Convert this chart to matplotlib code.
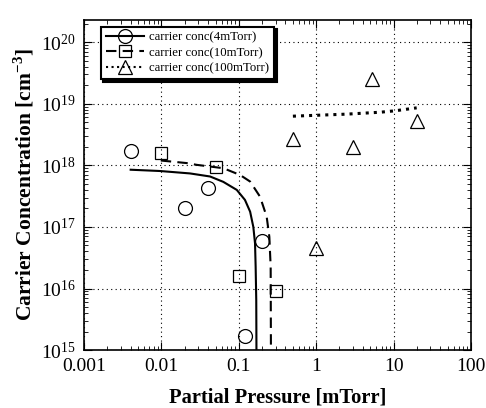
import numpy as np
import matplotlib
matplotlib.use("Agg")
import matplotlib.pyplot as plt
from matplotlib.ticker import LogLocator, FuncFormatter, NullFormatter

plt.rcParams['font.family'] = ['Liberation Serif', 'DejaVu Serif']
plt.rcParams['mathtext.fontset'] = 'custom'
plt.rcParams['mathtext.rm'] = 'Liberation Serif'
plt.rcParams['mathtext.bf'] = 'Liberation Serif:bold'

# measured points
p4 = [0.004, 0.02, 0.04, 0.2, 0.12]
n4 = [1.7e18, 2.0e17, 4.3e17, 6.0e16, 1.7e15]
p10 = [0.01, 0.05, 0.1, 0.3]
n10 = [1.6e18, 9.5e17, 1.6e16, 9.0e15]
p100 = [5.2, 20, 0.5, 3, 1.0]
n100 = [2.5e19, 5.3e18, 2.7e18, 2.0e18, 4.6e16]

# fitted curves
fp4 = [0.004, 0.0096, 0.0234, 0.0425, 0.063, 0.094, 0.120, 0.140, 0.154,
       0.162, 0.165, 0.168, 0.169]
fn4 = [8.5e17, 8.1e17, 7.4e17, 6.6e17, 5.4e17, 4.0e17, 2.75e17, 1.77e17, 1.0e17,
       5.4e16, 2.26e16, 6.5e15, 1e15]
fp10 = [0.0098, 0.0212, 0.0286, 0.063, 0.1035, 0.14, 0.188, 0.229, 0.248, 0.258, 0.260]
fn10 = [1.2e18, 1.09e18, 1.02e18, 9.0e17, 7.0e17, 5.46e17, 3.1e17, 1.47e17, 6.9e16,
        2.26e16, 1e15]
fp100 = [0.5, 2.48, 6.7, 10.4, 19.9]
fn100 = [6.3e18, 6.8e18, 7.3e18, 7.7e18, 8.6e18]

fig = plt.figure(figsize=(4.86, 4.08), dpi=100)
ax = fig.add_axes([0.173, 0.142, 0.796, 0.809])

ax.plot(fp4, fn4, '-', color='black', lw=1.5)
ax.plot(fp10, fn10, '--', color='black', lw=1.5, dashes=(5, 3))
ax.plot(fp100, fn100, ':', color='black', lw=2.2)
ax.plot(p4, n4, 'o', mfc='none', mec='black', ms=10, mew=0.9)
ax.plot(p10, n10, 's', mfc='none', mec='black', ms=9, mew=0.9)
ax.plot(p100, n100, '^', mfc='none', mec='black', ms=10, mew=0.9)

# legend proxies
h1, = ax.plot([], [], '-o', color='black', mfc='none', ms=10, lw=1.5, mew=0.9)
h2, = ax.plot([], [], '--s', color='black', mfc='none', ms=9, lw=1.5, mew=0.9, dashes=(5, 3))
h3, = ax.plot([], [], ':^', color='black', mfc='none', ms=10, lw=1.5, mew=0.9)
leg = ax.legend([h1, h2, h3],
                ['carrier conc(4mTorr)', 'carrier conc(10mTorr)', 'carrier conc(100mTorr)'],
                loc='upper left', bbox_to_anchor=(0.043, 0.98), borderaxespad=0,
                fontsize=9.2, handlelength=3, fancybox=False, framealpha=1,
                edgecolor='black', labelspacing=0.25, handletextpad=0.4,
                shadow={'color': 'black', 'alpha': 1})
leg.get_frame().set_linewidth(1.5)

ax.set_xscale('log')
ax.set_yscale('log')
ax.set_xlim(0.001, 100)
ax.set_ylim(1e15, 2.3e20)
ax.xaxis.set_major_locator(LogLocator(base=10, numticks=10))
ax.yaxis.set_major_locator(LogLocator(base=10, numticks=10))
ax.xaxis.set_minor_locator(LogLocator(base=10, subs=np.arange(2, 10), numticks=10))
ax.yaxis.set_minor_locator(LogLocator(base=10, subs=np.arange(2, 10), numticks=10))
ax.xaxis.set_major_formatter(FuncFormatter(lambda v, p: '%g' % v))
ax.xaxis.set_minor_formatter(NullFormatter())
ax.yaxis.set_minor_formatter(NullFormatter())

ax.grid(True, which='major', linestyle=(0, (1, 3)), color='black', lw=0.8)
ax.tick_params(which='both', direction='in', top=True, right=True, labelsize=14)
ax.tick_params(which='major', length=6)
ax.tick_params(which='minor', length=3)
ax.tick_params(axis='x', which='major', pad=6)
ax.tick_params(axis='y', which='major', pad=6)
for s in ax.spines.values():
    s.set_linewidth(1.2)

ax.set_xlabel('Partial Pressure [mTorr]', fontsize=14.8, fontweight='bold', labelpad=9)
ax.set_ylabel('Carrier Concentration [cm$^{\\mathbf{-3}}$]', fontsize=15.5,
              fontweight='bold', labelpad=3)

fig.savefig('out.png', dpi=100)
